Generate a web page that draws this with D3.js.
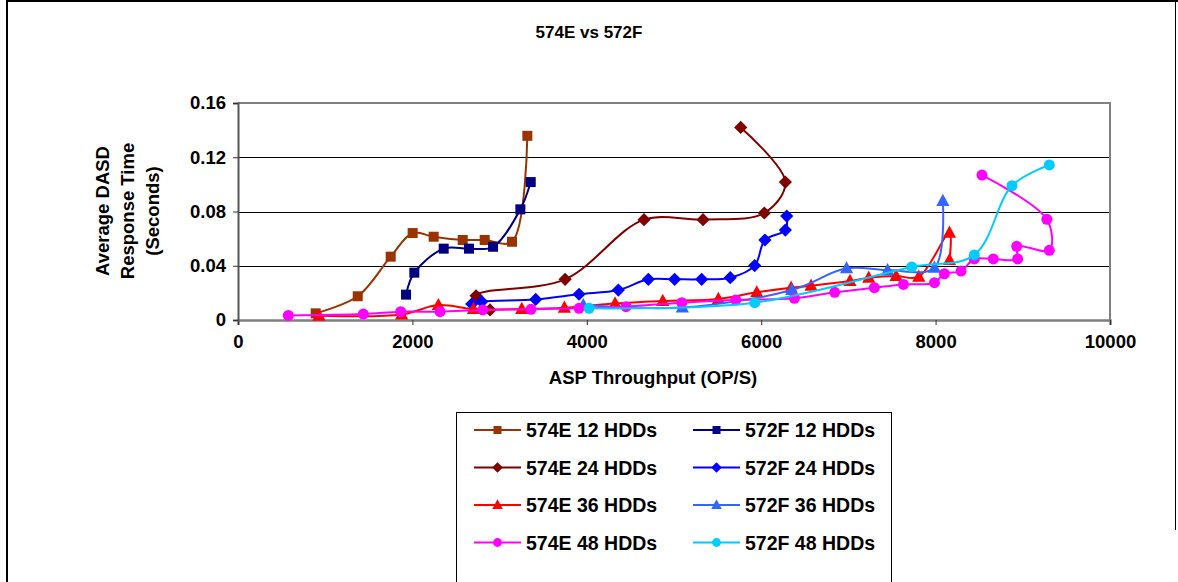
<!DOCTYPE html>
<html><head><meta charset="utf-8">
<script src="https://cdn.jsdelivr.net/npm/d3@7"></script>
<style>
html,body{margin:0;padding:0;background:#fff;}
text{font-family:"Liberation Sans",Arial,sans-serif;font-weight:bold;fill:#000;}
</style></head>
<body><svg id="c" width="1178" height="582"></svg>
<script>
const xTicks = [0, 2000, 4000, 6000, 8000, 10000];
const yTicks = [0, 0.04, 0.08, 0.12, 0.16];
const seriesNames = ["574E 12 HDDs","572F 12 HDDs","574E 24 HDDs","572F 24 HDDs","574E 36 HDDs","572F 36 HDDs","574E 48 HDDs","572F 48 HDDs"];
const e574_12 = [[891,0.0049],[1373,0.0175],[1751,0.0467],[2003,0.0641],[2244,0.0614],[2577,0.059],[2829,0.059],[3142,0.0577],[3318,0.1358]];
const f572_12 = [[1927,0.0187],[2022,0.0349],[2359,0.0526],[2649,0.0526],[2925,0.054],[3238,0.0816],[3357,0.1017]];
const e574_24 = [[2890,0.0074],[2730,0.0178],[3751,0.030],[4656,0.074],[5333,0.074],[6036,0.0789],[6277,0.1017],[5765,0.142]];
const f572_24 = [[2680,0.0118],[2795,0.0135],[3414,0.0152],[3911,0.019],[4362,0.0221],[4706,0.030],[5007,0.030],[5317,0.030],[5645,0.0312],[5925,0.0401],[6043,0.059],[6277,0.0663],[6293,0.0766]];
const e574_36 = [[929,0.0032],[1877,0.004],[2298,0.011],[2700,0.0081],[3254,0.0081],[3743,0.009],[4324,0.0122],[4871,0.014],[5509,0.0155],[5949,0.0204],[6343,0.0238],[6572,0.0253],[7018,0.0288],[7233,0.0311],[7547,0.0324],[7807,0.0319],[8159,0.0644],[8159,0.0442]];
const f572_36 = [[3960,0.011],[5096,0.0093],[6351,0.0221],[6979,0.0381],[7449,0.0368],[7987,0.0386],[8083,0.0877]];
const e574_48 = [[577,0.0034],[1437,0.0044],[1866,0.0061],[2317,0.0061],[2806,0.0074],[3360,0.0079],[3911,0.0086],[4450,0.0098],[5089,0.0128],[5708,0.0147],[6381,0.016],[6843,0.0204],[7298,0.0238],[7631,0.0262],[7987,0.0275],[8101,0.0341],[8292,0.0361],[8444,0.045],[8662,0.045],[8941,0.045],[8930,0.0543],[9304,0.0514],[9276,0.0742],[8532,0.1069]];
const f572_48 = [[4026,0.0086],[5926,0.0128],[7726,0.0391],[8444,0.048],[8876,0.099],[9304,0.1143]];
const seriesData = [e574_12, f572_12, e574_24, f572_24, e574_36, f572_36, e574_48, f572_48];
const colors = ["#993300","#000080","#800000","#0000FF","#FF0000","#3366FF","#FF00FF","#00CCFF"];
const shapes = ["square","square","diamond","diamond","triangle","triangle","circle","circle"];

const svg = d3.select("#c");
// outer frame
svg.append("line").attr("x1",7).attr("x2",1178).attr("y1",1).attr("y2",1).attr("stroke","#000").attr("stroke-width",2);
svg.append("line").attr("x1",7).attr("x2",7).attr("y1",0).attr("y2",582).attr("stroke","#000").attr("stroke-width",2);
svg.append("line").attr("x1",1175.5).attr("x2",1175.5).attr("y1",0).attr("y2",530).attr("stroke","#000").attr("stroke-width",1);

const x = d3.scaleLinear().domain([0,10000]).range([238,1110]);
const y = d3.scaleLinear().domain([0,0.16]).range([320,103]);

svg.append("text").attr("x",589).attr("y",38).attr("text-anchor","middle").style("font-size","17px").text("574E vs 572F");

// gridlines
svg.append("g").selectAll("line").data(yTicks.filter(d=>d>0)).join("line")
  .attr("x1",x(0)).attr("x2",x(10000)).attr("y1",d=>Math.round(y(d))+0.5).attr("y2",d=>Math.round(y(d))+0.5)
  .attr("stroke","#000").attr("stroke-width",1);
// plot border top/right
svg.append("line").attr("x1",x(0)).attr("x2",x(10000)).attr("y1",103).attr("y2",103).attr("stroke","#808080").attr("stroke-width",2);
svg.append("line").attr("x1",x(10000)).attr("x2",x(10000)).attr("y1",102).attr("y2",320).attr("stroke","#808080").attr("stroke-width",2);

const xAxis = svg.append("g").attr("transform","translate(0,320)")
  .call(d3.axisBottom(x).tickValues(xTicks).tickSize(5).tickPadding(10).tickFormat(d3.format("d")));
const yAxis = svg.append("g").attr("transform","translate(238,0)")
  .call(d3.axisLeft(y).tickValues(yTicks).tickSize(5).tickPadding(7).tickFormat(d=>d===0?"0":d3.format(".2f")(d)));
[xAxis,yAxis].forEach(a=>{
  a.select(".domain").attr("stroke","#555").attr("stroke-width",2);
  a.selectAll(".tick line").attr("stroke","#333");
  a.selectAll("text").style("font-size","18.5px").style("font-family","'Liberation Sans',Arial,sans-serif").style("font-weight","bold");
});
xAxis.select(".domain").attr("stroke","#808080").attr("stroke-width",2.5);

svg.append("text").attr("x",653).attr("y",384).attr("text-anchor","middle").style("font-size","18.5px").text("ASP Throughput (OP/S)");
const yt = svg.append("text").attr("transform","translate(128,211) rotate(-90)").attr("text-anchor","middle").style("font-size","18.5px");
["Average DASD","Response Time","(Seconds)"].forEach((t,i)=>yt.append("tspan").attr("x",0).attr("y",(i-1)*25+6).text(t));

const sizes = {square:10, diamond:11, triangle:12, circle:11};
function marker(g, shape, cx, cy, col, k){
  const s = sizes[shape]*k;
  if(shape==="square") g.append("rect").attr("x",cx-s/2).attr("y",cy-s/2).attr("width",s).attr("height",s).attr("fill",col);
  else if(shape==="diamond") g.append("path").attr("d",`M${cx},${cy-s*0.6}L${cx+s*0.6},${cy}L${cx},${cy+s*0.6}L${cx-s*0.6},${cy}Z`).attr("fill",col);
  else if(shape==="triangle") g.append("path").attr("d",`M${cx},${cy-s*0.6}L${cx+s*0.55},${cy+s*0.42}L${cx-s*0.55},${cy+s*0.42}Z`).attr("fill",col);
  else g.append("circle").attr("cx",cx).attr("cy",cy).attr("r",s*0.5).attr("fill",col);
}

const line = d3.line().x(d=>x(d[0])).y(d=>y(d[1])).curve(d3.curveCatmullRom.alpha(0.5));
seriesData.forEach((data,i)=>{
  const g = svg.append("g");
  g.append("path").attr("d",line(data)).attr("fill","none").attr("stroke",colors[i]).attr("stroke-width",2);
  data.forEach(d=>marker(g, shapes[i], x(d[0]), y(d[1]), colors[i], 1));
});

// legend
svg.append("rect").attr("x",456.5).attr("y",412.5).attr("width",435).attr("height",200).attr("fill","none").attr("stroke","#000").attr("stroke-width",1);
seriesNames.forEach((n,i)=>{
  const col = i%2, row = Math.floor(i/2);
  const lx = col===0 ? 474 : 693, ly = 430 + row*37.5;
  const g = svg.append("g");
  g.append("line").attr("x1",lx).attr("x2",lx+47).attr("y1",ly).attr("y2",ly).attr("stroke",colors[i]).attr("stroke-width",2);
  marker(g, shapes[i], lx+23.5, ly, colors[i], 0.8);
  g.append("text").attr("x",lx+52).attr("y",ly+7).style("font-size","19.5px").text(n);
});
</script></body></html>
